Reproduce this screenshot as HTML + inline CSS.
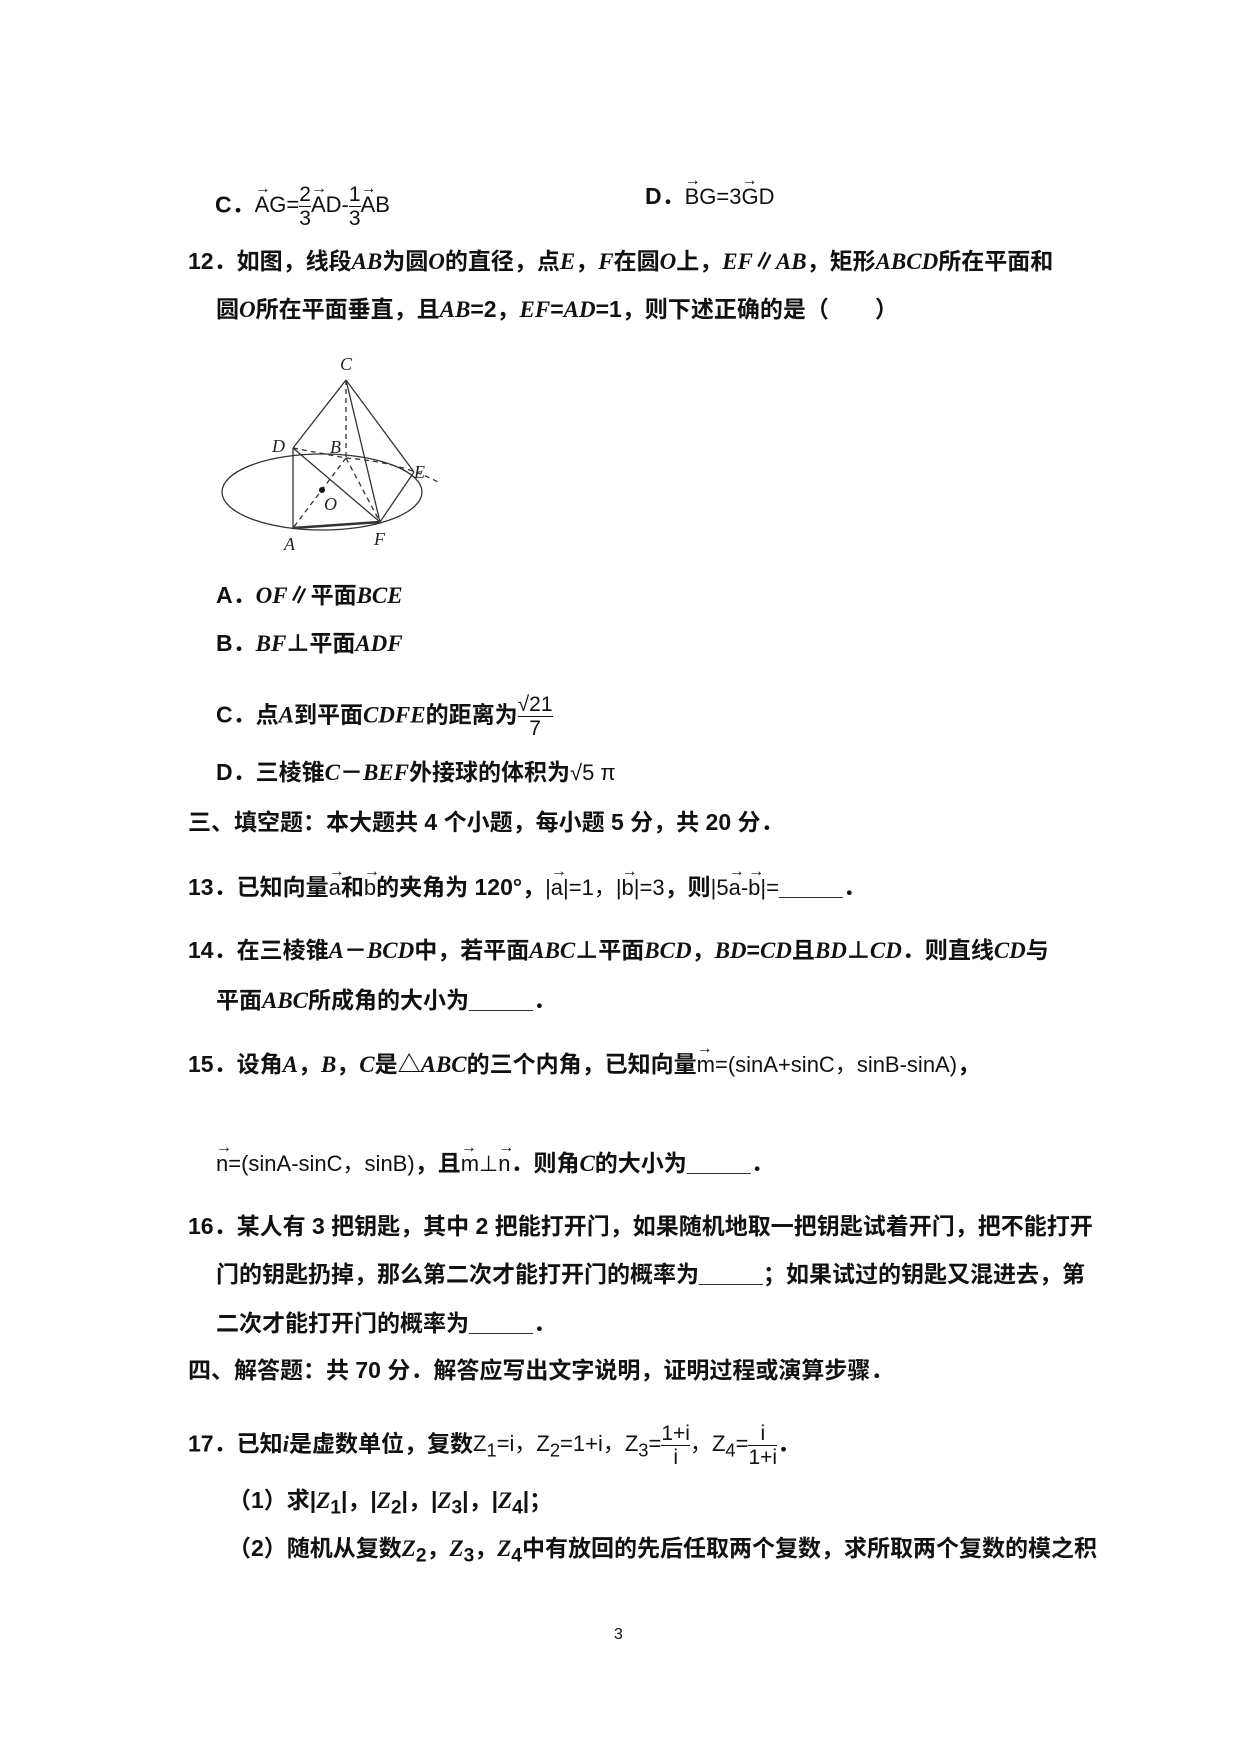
<!DOCTYPE html>
<html><head><meta charset="utf-8"><style>
body{margin:0;width:1240px;height:1754px;background:#fff;position:relative;overflow:hidden;font-family:"Liberation Sans","Noto Sans CJK SC",sans-serif;color:#111}
.l{position:absolute;font-size:23px;font-weight:bold;white-space:nowrap;line-height:26px}
i{font-family:"Liberation Serif","Noto Sans CJK SC",serif;font-style:italic}
.m{font-family:"Liberation Sans Narrow","Liberation Sans",sans-serif;font-weight:normal;font-size:22px}
.v{position:relative;display:inline-block}
.v:before{content:"→";position:absolute;top:-16px;left:0;font-size:16px;font-weight:normal}
.fr{display:inline-block;vertical-align:middle;text-align:center;font-weight:normal;font-size:21px;line-height:23px}
.fr span{display:block}
.fr .n{border-bottom:1px solid #111}
</style></head><body>
<div class="l" style="left:215px;top:183px">C．<span class="m"><span class="v">AG</span>=<span class="fr"><span class="n">2</span><span>3</span></span><span class="v">AD</span>-<span class="fr"><span class="n">1</span><span>3</span></span><span class="v">AB</span></span></div>
<div class="l" style="left:645px;top:183px">D．<span class="m"><span class="v">BG</span>=3<span class="v">GD</span></span></div>
<div class="l" style="left:188px;top:248px">12．如图，线段<i>AB</i>为圆<i>O</i>的直径，点<i>E</i>，<i>F</i>在圆<i>O</i>上，<i>EF</i>∥<i>AB</i>，矩形<i>ABCD</i>所在平面和</div>
<div class="l" style="left:216px;top:296px">圆<i>O</i>所在平面垂直，且<i>AB</i>=2，<i>EF</i>=<i>AD</i>=1，则下述正确的是（　　）</div>
<svg style="position:absolute;left:0;top:0" width="1240" height="1754">
<g fill="none" stroke="#333" stroke-width="1.3">
<ellipse cx="322" cy="492" rx="100" ry="38"/>
<line x1="346" y1="380" x2="293" y2="448"/>
<line x1="293" y1="448" x2="293" y2="528"/>
<line x1="293" y1="528" x2="380" y2="522" stroke-width="2.5"/>
<line x1="346" y1="380" x2="380" y2="522"/>
<line x1="346" y1="380" x2="414" y2="472"/>
<line x1="414" y1="472" x2="380" y2="522"/>
<line x1="293" y1="448" x2="380" y2="522"/>
<g stroke-dasharray="5,4">
<line x1="346" y1="380" x2="346" y2="458"/>
<line x1="293" y1="448" x2="346" y2="458"/>
<line x1="346" y1="458" x2="380" y2="522"/>
<line x1="346" y1="458" x2="293" y2="528"/>
<path d="M346 458 Q400 462 438 482"/>
</g></g>
<circle cx="322" cy="490" r="3" fill="#111"/>
<g font-family="Liberation Serif" font-style="italic" font-size="18" fill="#222">
<text x="340" y="370">C</text><text x="272" y="452">D</text><text x="330" y="453">B</text>
<text x="414" y="478">E</text><text x="324" y="510">O</text><text x="284" y="550">A</text><text x="374" y="545">F</text></g>
</svg>
<div class="l" style="left:216px;top:582px">A．<i>OF</i>∥平面<i>BCE</i></div>
<div class="l" style="left:216px;top:630px">B．<i>BF</i>⊥平面<i>ADF</i></div>
<div class="l" style="left:216px;top:693px">C．点<i>A</i>到平面<i>CDFE</i>的距离为<span class="fr"><span class="n">√21</span><span>7</span></span></div>
<div class="l" style="left:216px;top:759px">D．三棱锥<i>C</i>－<i>BEF</i>外接球的体积为<span class="m">√5 π</span></div>
<div class="l" style="left:188px;top:809px">三、填空题：本大题共 4 个小题，每小题 5 分，共 20 分．</div>
<div class="l" style="left:188px;top:874px">13．已知向量<span class="m"><span class="v">a</span></span>和<span class="m"><span class="v">b</span></span>的夹角为 120°，<span class="m">|<span class="v">a</span>|=1，|<span class="v">b</span>|=3</span>，则<span class="m">|5<span class="v">a</span>-<span class="v">b</span>|=</span>_____．</div>
<div class="l" style="left:188px;top:937px">14．在三棱锥<i>A</i>－<i>BCD</i>中，若平面<i>ABC</i>⊥平面<i>BCD</i>，<i>BD</i>=<i>CD</i>且<i>BD</i>⊥<i>CD</i>．则直线<i>CD</i>与</div>
<div class="l" style="left:216px;top:987px">平面<i>ABC</i>所成角的大小为_____．</div>
<div class="l" style="left:188px;top:1051px">15．设角<i>A</i>，<i>B</i>，<i>C</i>是△<i>ABC</i>的三个内角，已知向量<span class="m"><span class="v">m</span>=(sinA+sinC，sinB-sinA)</span>，</div>
<div class="l" style="left:216px;top:1150px"><span class="m"><span class="v">n</span>=(sinA-sinC，sinB)</span>，且<span class="m"><span class="v">m</span>⊥<span class="v">n</span></span>．则角<i>C</i>的大小为_____．</div>
<div class="l" style="left:188px;top:1213px">16．某人有 3 把钥匙，其中 2 把能打开门，如果随机地取一把钥匙试着开门，把不能打开</div>
<div class="l" style="left:216px;top:1261px">门的钥匙扔掉，那么第二次才能打开门的概率为_____；如果试过的钥匙又混进去，第</div>
<div class="l" style="left:216px;top:1310px">二次才能打开门的概率为_____．</div>
<div class="l" style="left:188px;top:1357px">四、解答题：共 70 分．解答应写出文字说明，证明过程或演算步骤．</div>
<div class="l" style="left:188px;top:1422px">17．已知<i>i</i>是虚数单位，复数<span class="m">Z<sub>1</sub>=i，Z<sub>2</sub>=1+i，Z<sub>3</sub>=<span class="fr"><span class="n">1+i</span><span>i</span></span>，Z<sub>4</sub>=<span class="fr"><span class="n">i</span><span>1+i</span></span></span>．</div>
<div class="l" style="left:228px;top:1487px">（1）求|<i>Z</i><sub>1</sub>|，|<i>Z</i><sub>2</sub>|，|<i>Z</i><sub>3</sub>|，|<i>Z</i><sub>4</sub>|；</div>
<div class="l" style="left:228px;top:1535px">（2）随机从复数<i>Z</i><sub>2</sub>，<i>Z</i><sub>3</sub>，<i>Z</i><sub>4</sub>中有放回的先后任取两个复数，求所取两个复数的模之积</div>
<div style="position:absolute;left:614px;top:1626px;font-size:16px">3</div>
</body></html>
